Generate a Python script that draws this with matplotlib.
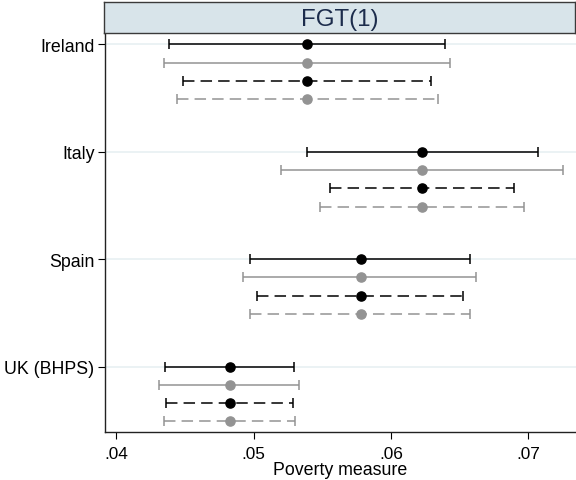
import matplotlib
matplotlib.use("Agg")
import matplotlib.pyplot as plt
import numpy as np

plt.rcParams['font.family'] = ['Liberation Sans', 'DejaVu Sans']

# dane
countries = ['Ireland', 'Italy', 'Spain', 'UK (BHPS)']
means = [0.0539, 0.0623, 0.0578, 0.0483]

# cztery przedzialy na kraj: czarny ciagly, szary ciagly, czarny przerywany, szary przerywany
lo_black = [0.04386, 0.05387, 0.04972, 0.04355]
hi_black = [0.06394, 0.07071, 0.06578, 0.05294]
lo_gray = [0.04347, 0.05200, 0.04925, 0.04313]
hi_gray = [0.06433, 0.07256, 0.06622, 0.05331]
lo_bdash = [0.04488, 0.05559, 0.05023, 0.04364]
hi_bdash = [0.06292, 0.06899, 0.06525, 0.05289]
lo_gdash = [0.04442, 0.05486, 0.04976, 0.04345]
hi_gdash = [0.06343, 0.06972, 0.06574, 0.05302]

xticks = [0.04, 0.05, 0.06, 0.07]
xtick_labels = ['.04', '.05', '.06', '.07']

GRAY = '#939393'
gap = 5.86  # odstep miedzy krajami (w wierszach)

series = [
    (lo_black, hi_black, 'black', '-'),
    (lo_gray, hi_gray, GRAY, '-'),
    (lo_bdash, hi_bdash, 'black', (0, (7.5, 4))),
    (lo_gdash, hi_gdash, GRAY, (0, (7.5, 4))),
]

fig = plt.figure(figsize=(5.76, 4.81), dpi=100)
ax = fig.add_axes([0.1818, 0.0992, 0.8174, 0.8295])

base = np.arange(len(countries)) * gap

for y in base:
    ax.axhline(y, color='#e8f0f2', lw=1.2, zorder=0)

for k, (lo, hi, col, ls) in enumerate(series):
    ys = base + k
    lo = np.array(lo)
    hi = np.array(hi)
    m = np.array(means)
    _, caps, bars = ax.errorbar(m, ys, xerr=[m - lo, hi - m], fmt='none',
                                ecolor=col, elinewidth=1.1, capsize=3.3,
                                capthick=1.1, zorder=2)
    bars[0].set_linestyle(ls)
    ax.plot(m, ys, 'o', color=col, markersize=6.6, zorder=3)

ax.set_xlim(0.039155, 0.07345)
ax.set_ylim(3 * gap + 3 + 0.59, -0.61)
ax.set_yticks(base)
ax.set_yticklabels(countries)
ax.set_xticks(xticks)
ax.set_xticklabels(xtick_labels)
ax.tick_params(axis='y', length=5.4, width=0.8, pad=2, labelsize=12.8)
ax.tick_params(axis='x', length=5, width=0.8, pad=4.8, labelsize=12.4)
ax.set_xlabel('Poverty measure', fontsize=12.8, labelpad=0)

for s in ['top', 'right']:
    ax.spines[s].set_visible(False)
for s in ['left', 'bottom']:
    ax.spines[s].set_linewidth(1.0)
    ax.spines[s].set_color('#222222')

# naglowek z tytulem panelu
hdr = fig.add_axes([0.1811, 0.9287, 0.8180, 0.0644])
hdr.set_facecolor('#d8e4ea')
hdr.set_xticks([])
hdr.set_yticks([])
for s in hdr.spines.values():
    s.set_color('#3a3a3a')
    s.set_linewidth(1.0)
hdr.text(0.5, 0.47, 'FGT(1)', ha='center', va='center', fontsize=17.3,
         color='#1c2c4c', transform=hdr.transAxes)

fig.savefig('out.png', dpi=100)
